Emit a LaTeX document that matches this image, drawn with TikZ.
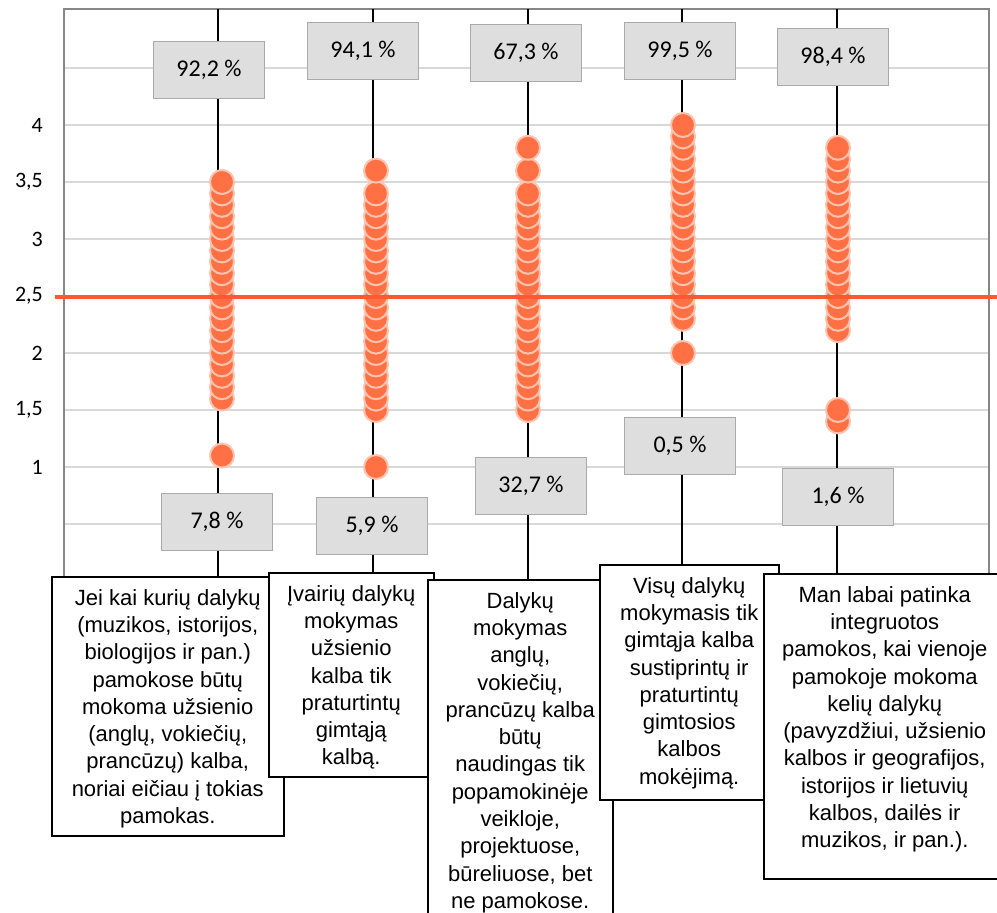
\documentclass[tikz,border=0pt]{standalone}
\usepackage{fontspec}
\setmainfont{Liberation Sans}
\newfontfamily\chartfont{Carlito}
\usepackage{xcolor}
\definecolor{gridgrey}{RGB}{217,217,217}
\definecolor{framegrey}{RGB}{134,134,134}
\definecolor{boxgrey}{RGB}{222,222,222}
\definecolor{boxedge}{RGB}{170,170,170}
\definecolor{dotorange}{RGB}{255,112,68}
\definecolor{dotrim}{RGB}{255,196,175}
\definecolor{meanred}{RGB}{255,88,50}
\tikzstyle{gridline}=[draw=gridgrey,line width=1.5pt]
\tikzstyle{frameline}=[draw=framegrey,line width=1.5pt]
\tikzstyle{colline}=[draw=black,line width=1.3pt]
\tikzstyle{meanline}=[draw=meanred,line width=4pt]
\tikzstyle{pctbox}=[draw=boxedge,fill=boxgrey,line width=1.5pt,minimum width=111pt,minimum height=57pt,inner sep=0pt,font=\chartfont\fontsize{24}{28}\selectfont]
\tikzstyle{ylab}=[anchor=east,inner sep=3pt,font=\chartfont\fontsize{22}{26}\selectfont]
\tikzstyle{txtbox}=[draw,fill=white,line width=1.5pt,inner sep=0pt,anchor=north west]
\tikzstyle{txtlab}=[anchor=north,align=center,inner xsep=2pt,inner ysep=13pt,font=\fontsize{22}{27.3}\selectfont]
\tikzstyle{answerdot}=[fill=dotorange,draw=dotrim,line width=2pt]

\begin{document}
\begin{tikzpicture}[x=1pt,y=-1pt]
	\path[use as bounding box,clip] (0,0) rectangle (997,913);

	\foreach \v in {1,...,9}
		\draw[gridline] (64,{581-57*\v}) -- (989,{581-57*\v});

	\foreach \v/\lab [count=\i] in {1/1, 1.5/{1,5}, 2/2, 2.5/{2,5}, 3/3, 3.5/{3,5}, 4/4}
		\node[ylab] (yLab\i) at (46,{581-114*\v}) {\lab};

	% statements
	\node [txtbox, minimum width=232pt, minimum height=259pt] (txtBox1) at (51,576) {};
	\node [txtlab] (txtLab1) at (txtBox1.north) {Jei kai kurių dalykų\\(muzikos, istorijos,\\biologijos ir pan.)\\pamokose būtų\\mokoma užsienio\\(anglų, vokiečių,\\prancūzų) kalba,\\noriai eičiau į tokias\\pamokas.};
	\node [txtbox, minimum width=165pt, minimum height=204pt] (txtBox2) at (268,572) {};
	\node [txtlab] (txtLab2) at (txtBox2.north) {Įvairių dalykų\\mokymas\\užsienio\\kalba tik\\praturtintų\\gimtąją\\kalbą.};
	\node [txtbox, minimum width=185pt, minimum height=340pt] (txtBox3) at (427,579) {};
	\node [txtlab] (txtLab3) at (txtBox3.north) {Dalykų\\mokymas\\anglų,\\vokiečių,\\prancūzų kalba\\būtų\\naudingas tik\\popamokinėje\\veikloje,\\projektuose,\\būreliuose, bet\\ne pamokose.};
	\node [txtbox, minimum width=179pt, minimum height=235pt] (txtBox4) at (599,564) {};
	\node [txtlab] (txtLab4) at (txtBox4.north) {Visų dalykų\\mokymasis tik\\gimtąja kalba\\sustiprintų ir\\praturtintų\\gimtosios\\kalbos\\mokėjimą.};
	\node [txtbox, minimum width=242pt, minimum height=305pt] (txtBox5) at (763,573) {};
	\node [txtlab] (txtLab5) at (txtBox5.north) {Man labai patinka\\integruotos\\pamokos, kai vienoje\\pamokoje mokoma\\kelių dalykų\\(pavyzdžiui, užsienio\\kalbos ir geografijos,\\istorijos ir lietuvių\\kalbos, dailės ir\\muzikos, ir pan.).};

	\coordinate (frameTL) at (64,9);
	\coordinate (frameTR) at (989,9);
	\draw[frameline] (frameTL |- txtBox1.north) -- (frameTL) -- (frameTR) -- (frameTR |- txtBox5.north);

	\coordinate (colTop1) at (218,9);
	\coordinate (colTop2) at (373,9);
	\coordinate (colTop3) at (528,9);
	\coordinate (colTop4) at (682,9);
	\coordinate (colTop5) at (837,9);
	\draw[colline] (colTop1) -- (colTop1 |- txtBox1.north);
	\draw[colline] (colTop2) -- (colTop2 |- txtBox2.north);
	\draw[colline] (colTop3) -- (colTop3 |- txtBox3.north);
	\draw[colline] (colTop4) -- (colTop4 |- txtBox4.north);
	\draw[colline] (colTop5) -- (colTop5 |- txtBox5.north);

	\node[pctbox] (pctTop1) at (209,70) {92,2 \%};
	\node[pctbox] (pctTop2) at (363,51) {94,1 \%};
	\node[pctbox] (pctTop3) at (526,53) {67,3 \%};
	\node[pctbox] (pctTop4) at (680,51) {99,5 \%};
	\node[pctbox] (pctTop5) at (833,57) {98,4 \%};
	\node[pctbox] (pctBot1) at (217,522) {7,8 \%};
	\node[pctbox] (pctBot2) at (372,526) {5,9 \%};
	\node[pctbox] (pctBot3) at (531,486) {32,7 \%};
	\node[pctbox] (pctBot4) at (680,446) {0,5 \%};
	\node[pctbox] (pctBot5) at (838,497) {1,6 \%};

	% answers
	\foreach \k in {11,16,17,...,35}
		\filldraw[answerdot] (222,{581-11.4*\k}) circle[radius=12pt];
	\foreach \k in {10,15,16,...,34,36}
		\filldraw[answerdot] (376,{581-11.4*\k}) circle[radius=12pt];
	\foreach \k in {15,16,...,34,36,38}
		\filldraw[answerdot] (528,{581-11.4*\k}) circle[radius=12pt];
	\foreach \k in {20,23,24,...,40}
		\filldraw[answerdot] (683,{581-11.4*\k}) circle[radius=12pt];
	\foreach \k in {14,15,22,23,...,38}
		\filldraw[answerdot] (838,{581-11.4*\k}) circle[radius=12pt];

	\coordinate (meanL) at (55,297);
	\coordinate (meanR) at (997,297);
	\draw[meanline] (meanL) -- (meanR);
\end{tikzpicture}
\end{document}
